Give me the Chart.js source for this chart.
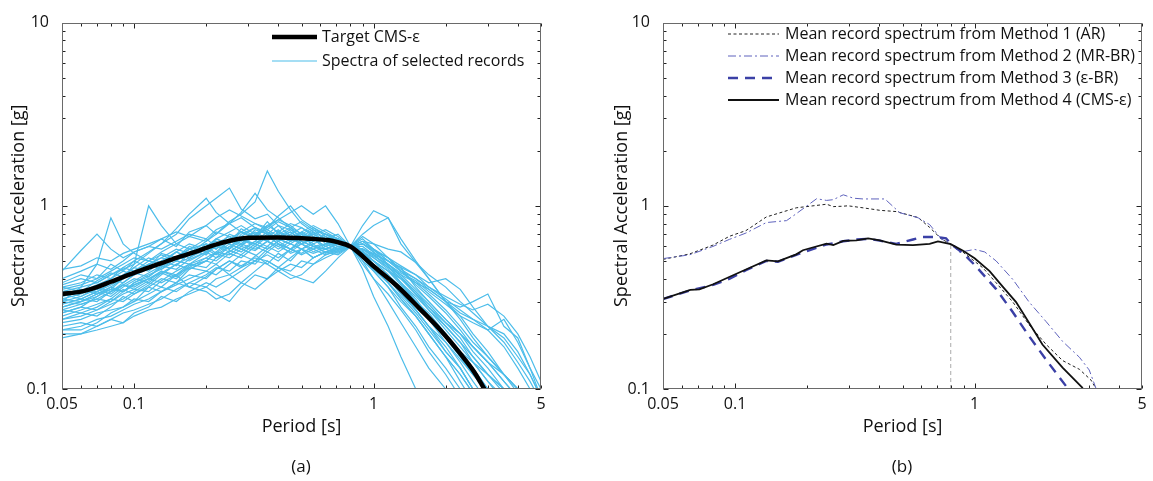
<!DOCTYPE html>
<html>
<head>
<meta charset="utf-8">
<script src="https://cdn.jsdelivr.net/npm/chart.js@4"></script>
<style>
  body { margin: 0; background: #fff; width: 1153px; height: 481px; position: relative; overflow: hidden; font-family: 'Open Sans', sans-serif; }
  canvas { position: absolute; top: 0; }
  #chartA { left: 0; }
  #chartB { left: 577px; }
  .cap { position: absolute; top: 454px; width: 60px; text-align: center; font-size: 17px; color: #111; }
</style>
</head>
<body>
<canvas id="chartA" width="576" height="481"></canvas>
<canvas id="chartB" width="576" height="481"></canvas>
<div class="cap" style="left:271px">(a)</div>
<div class="cap" style="left:872px">(b)</div>
<script>
// ---------- DATA ----------
const xTicks = [0.05, 0.1, 1, 5];
const yTicks = [0.1, 1, 10];

// panel (a): spectra of the selected records, all on one period grid
const periods = [0.05, 0.06, 0.07, 0.08, 0.09, 0.1, 0.115, 0.13, 0.15, 0.17, 0.2, 0.22, 0.25, 0.28, 0.32, 0.36, 0.4, 0.45, 0.5, 0.56, 0.63, 0.71, 0.8, 0.9, 1.0, 1.15, 1.3, 1.5, 1.7, 2.0, 2.3, 2.6, 3.0, 3.5, 4.0, 4.5, 5.0];
const records = [
  [0.45,0.47,0.52,0.50,0.55,0.58,0.62,0.66,0.60,0.72,0.78,0.70,0.82,0.90,1.05,1.55,1.20,0.95,0.80,0.72,0.66,0.70,0.60,0.52,0.48,0.40,0.36,0.30,0.26,0.20,0.16,0.13,0.10,0.08,0.06,0.05,0.04],
  [0.20,0.20,0.21,0.22,0.23,0.25,0.27,0.28,0.31,0.33,0.36,0.40,0.42,0.46,0.50,0.48,0.55,0.50,0.58,0.62,0.55,0.58,0.60,0.56,0.50,0.42,0.34,0.27,0.22,0.16,0.13,0.10,0.08,0.06,0.05,0.04,0.03],
  [0.38,0.42,0.40,0.48,0.44,0.50,0.46,0.55,0.52,0.60,0.56,0.66,0.62,0.75,0.68,0.82,0.70,0.76,0.66,0.72,0.62,0.66,0.60,0.66,0.58,0.50,0.46,0.36,0.30,0.24,0.20,0.17,0.14,0.11,0.09,0.07,0.06],
  [0.30,0.36,0.48,0.86,0.62,0.55,0.50,0.48,0.56,0.52,0.62,0.58,0.70,0.66,0.60,0.68,0.74,0.64,0.70,0.60,0.58,0.62,0.60,0.50,0.44,0.36,0.30,0.25,0.20,0.15,0.12,0.095,0.075,0.06,0.05,0.04,0.03],
  [0.26,0.28,0.32,0.35,0.40,0.48,1.00,0.78,0.62,0.58,0.66,0.60,0.56,0.62,0.74,0.70,0.62,0.58,0.66,0.70,0.64,0.60,0.60,0.55,0.47,0.40,0.35,0.30,0.24,0.19,0.15,0.12,0.095,0.08,0.065,0.05,0.04],
  [0.34,0.36,0.38,0.42,0.45,0.48,0.55,0.62,0.70,0.85,1.00,1.10,1.25,0.96,0.85,0.90,0.78,0.74,0.68,0.64,0.70,0.64,0.60,0.68,0.62,0.52,0.44,0.38,0.33,0.27,0.22,0.18,0.15,0.12,0.10,0.08,0.065],
  [0.24,0.26,0.25,0.28,0.32,0.30,0.36,0.40,0.38,0.45,0.50,0.48,0.55,0.52,0.60,0.56,0.62,0.55,0.58,0.52,0.56,0.54,0.60,0.78,0.94,0.86,0.62,0.49,0.42,0.36,0.30,0.26,0.22,0.19,0.15,0.12,0.09],
  [0.28,0.30,0.33,0.35,0.34,0.38,0.42,0.45,0.50,0.48,0.55,0.60,0.58,0.65,0.62,0.70,0.66,0.72,0.64,0.60,0.62,0.58,0.60,0.56,0.52,0.46,0.42,0.38,0.35,0.30,0.28,0.30,0.33,0.22,0.19,0.13,0.09],
  [0.23,0.24,0.26,0.27,0.28,0.30,0.33,0.36,0.34,0.38,0.36,0.33,0.30,0.36,0.42,0.40,0.46,0.44,0.50,0.48,0.54,0.57,0.60,0.52,0.44,0.36,0.28,0.22,0.17,0.13,0.10,0.08,0.065,0.05,0.04,0.03,0.025],
  [0.31,0.33,0.36,0.40,0.38,0.42,0.45,0.50,0.47,0.55,0.60,0.64,0.58,0.68,0.76,0.72,0.66,0.62,0.68,0.74,0.66,0.62,0.60,0.45,0.32,0.22,0.15,0.10,0.075,0.06,0.05,0.04,0.03,0.025,0.02,0.017,0.015],
  [0.44,0.57,0.70,0.58,0.52,0.56,0.60,0.58,0.64,0.70,0.66,0.74,0.80,0.72,0.68,0.76,0.84,0.78,0.70,0.66,0.60,0.64,0.60,0.56,0.50,0.44,0.40,0.33,0.28,0.22,0.18,0.14,0.11,0.09,0.07,0.055,0.045],
  [0.27,0.29,0.31,0.30,0.34,0.37,0.40,0.44,0.42,0.48,0.52,0.56,0.64,0.60,0.70,0.78,0.72,0.80,0.76,0.68,0.64,0.66,0.60,0.62,0.56,0.48,0.41,0.34,0.29,0.23,0.19,0.15,0.12,0.095,0.08,0.065,0.05],
  [0.36,0.38,0.42,0.40,0.46,0.50,0.56,0.62,0.75,0.90,1.10,0.92,0.80,0.86,0.76,0.70,0.78,0.68,0.62,0.66,0.58,0.62,0.60,0.57,0.50,0.42,0.36,0.30,0.25,0.20,0.16,0.13,0.10,0.08,0.065,0.05,0.04],
  [0.22,0.23,0.22,0.24,0.26,0.27,0.29,0.31,0.35,0.38,0.42,0.46,0.44,0.50,0.48,0.56,0.52,0.58,0.55,0.60,0.58,0.55,0.60,0.58,0.52,0.45,0.38,0.31,0.25,0.20,0.15,0.12,0.095,0.075,0.06,0.05,0.04],
  [0.29,0.31,0.30,0.34,0.37,0.36,0.40,0.43,0.40,0.46,0.44,0.48,0.42,0.38,0.35,0.40,0.44,0.48,0.46,0.52,0.56,0.60,0.60,0.70,0.78,0.86,0.66,0.50,0.40,0.30,0.25,0.20,0.16,0.12,0.10,0.08,0.06],
  [0.33,0.35,0.34,0.38,0.42,0.46,0.44,0.50,0.56,0.52,0.60,0.66,0.72,0.78,0.70,0.64,0.60,0.66,0.72,0.78,0.72,0.66,0.60,0.48,0.40,0.33,0.27,0.21,0.16,0.12,0.09,0.07,0.055,0.045,0.035,0.03,0.025],
  [0.30,0.32,0.36,0.34,0.38,0.42,0.48,0.52,0.58,0.55,0.64,0.70,0.80,0.92,1.17,0.95,0.86,0.76,0.82,0.74,0.70,0.64,0.60,0.54,0.46,0.38,0.32,0.26,0.21,0.16,0.13,0.10,0.08,0.065,0.05,0.04,0.035],
  [0.25,0.27,0.29,0.31,0.30,0.33,0.36,0.34,0.38,0.42,0.40,0.45,0.50,0.47,0.52,0.50,0.46,0.42,0.40,0.38,0.44,0.52,0.60,0.62,0.58,0.50,0.44,0.37,0.32,0.26,0.21,0.17,0.14,0.11,0.09,0.07,0.055],
  [0.32,0.34,0.37,0.40,0.44,0.42,0.48,0.52,0.50,0.58,0.62,0.58,0.66,0.72,0.66,0.78,0.84,0.92,1.00,0.90,1.00,0.80,0.60,0.52,0.45,0.38,0.31,0.25,0.20,0.15,0.12,0.095,0.075,0.06,0.05,0.04,0.03],
  [0.26,0.28,0.27,0.30,0.33,0.35,0.34,0.39,0.44,0.48,0.46,0.52,0.56,0.62,0.58,0.64,0.60,0.56,0.62,0.58,0.54,0.57,0.60,0.58,0.54,0.50,0.46,0.42,0.38,0.40,0.35,0.28,0.22,0.18,0.14,0.11,0.085],
  [0.35,0.37,0.40,0.44,0.48,0.52,0.50,0.56,0.62,0.68,0.64,0.72,0.68,0.62,0.70,0.74,0.68,0.72,0.66,0.70,0.74,0.68,0.60,0.55,0.50,0.44,0.38,0.32,0.27,0.22,0.18,0.15,0.12,0.10,0.08,0.065,0.05],
  [0.21,0.22,0.24,0.25,0.27,0.29,0.31,0.34,0.37,0.40,0.44,0.42,0.48,0.54,0.50,0.58,0.64,0.58,0.54,0.58,0.62,0.64,0.60,0.50,0.40,0.30,0.23,0.17,0.13,0.10,0.075,0.06,0.045,0.035,0.03,0.025,0.02],
  [0.28,0.30,0.32,0.36,0.34,0.38,0.41,0.46,0.52,0.58,0.54,0.62,0.58,0.70,0.76,0.70,0.64,0.70,0.62,0.56,0.60,0.56,0.60,0.64,0.62,0.58,0.56,0.49,0.40,0.30,0.24,0.19,0.15,0.12,0.095,0.075,0.06],
  [0.31,0.30,0.33,0.36,0.34,0.37,0.40,0.38,0.42,0.36,0.34,0.31,0.33,0.38,0.44,0.50,0.46,0.52,0.58,0.52,0.56,0.58,0.60,0.56,0.48,0.40,0.34,0.27,0.22,0.17,0.13,0.10,0.08,0.06,0.05,0.04,0.03],
  [0.37,0.40,0.38,0.42,0.46,0.44,0.50,0.54,0.50,0.56,0.60,0.55,0.62,0.58,0.54,0.48,0.44,0.40,0.42,0.48,0.52,0.56,0.60,0.62,0.56,0.48,0.42,0.35,0.30,0.24,0.20,0.16,0.13,0.10,0.085,0.07,0.055],
  [0.40,0.44,0.48,0.45,0.50,0.56,0.60,0.66,0.72,0.68,0.78,0.86,0.95,0.88,0.80,0.74,0.82,0.76,0.70,0.76,0.68,0.64,0.60,0.64,0.58,0.52,0.45,0.40,0.35,0.30,0.26,0.24,0.21,0.17,0.13,0.10,0.08],
  [0.19,0.20,0.22,0.24,0.23,0.26,0.28,0.32,0.30,0.34,0.38,0.36,0.40,0.44,0.50,0.54,0.50,0.58,0.62,0.66,0.60,0.64,0.60,0.54,0.46,0.38,0.31,0.25,0.20,0.15,0.11,0.085,0.065,0.05,0.04,0.03,0.025],
  [0.33,0.31,0.34,0.37,0.40,0.44,0.48,0.45,0.52,0.58,0.54,0.62,0.68,0.64,0.72,0.66,0.70,0.64,0.68,0.62,0.66,0.63,0.60,0.58,0.54,0.46,0.40,0.34,0.28,0.23,0.20,0.17,0.14,0.12,0.10,0.085,0.07],
  [0.27,0.26,0.28,0.31,0.35,0.33,0.37,0.42,0.48,0.45,0.50,0.55,0.52,0.58,0.64,0.60,0.68,0.74,0.68,0.64,0.70,0.66,0.60,0.55,0.48,0.41,0.34,0.28,0.24,0.19,0.16,0.14,0.12,0.10,0.09,0.075,0.06],
  [0.34,0.32,0.35,0.33,0.37,0.40,0.38,0.43,0.48,0.52,0.58,0.54,0.60,0.66,0.62,0.58,0.64,0.70,0.76,0.70,0.64,0.58,0.60,0.64,0.58,0.47,0.38,0.30,0.24,0.18,0.14,0.11,0.085,0.065,0.05,0.04,0.03],
  [0.29,0.31,0.34,0.32,0.36,0.39,0.43,0.47,0.45,0.51,0.56,0.60,0.66,0.61,0.68,0.64,0.72,0.66,0.62,0.68,0.64,0.60,0.60,0.58,0.55,0.50,0.44,0.40,0.36,0.32,0.29,0.27,0.29,0.25,0.20,0.15,0.11],
  [0.24,0.25,0.27,0.29,0.31,0.34,0.38,0.36,0.42,0.46,0.52,0.50,0.57,0.54,0.62,0.68,0.62,0.58,0.64,0.60,0.56,0.59,0.60,0.62,0.57,0.52,0.47,0.42,0.36,0.31,0.27,0.24,0.22,0.20,0.16,0.12,0.09],
  [0.36,0.34,0.39,0.43,0.41,0.46,0.52,0.49,0.56,0.62,0.58,0.66,0.62,0.72,0.80,0.76,0.88,1.00,0.84,0.76,0.70,0.66,0.60,0.60,0.54,0.47,0.40,0.33,0.27,0.21,0.17,0.14,0.11,0.085,0.07,0.055,0.045],
  [0.21,0.21,0.23,0.26,0.28,0.31,0.30,0.34,0.38,0.36,0.41,0.45,0.50,0.46,0.53,0.60,0.56,0.62,0.58,0.55,0.58,0.62,0.60,0.56,0.50,0.44,0.37,0.30,0.25,0.19,0.15,0.12,0.10,0.08,0.065,0.05,0.04],
  [0.32,0.35,0.33,0.36,0.40,0.43,0.41,0.47,0.53,0.50,0.56,0.52,0.60,0.56,0.64,0.72,0.66,0.62,0.58,0.64,0.68,0.62,0.60,0.58,0.53,0.48,0.43,0.39,0.34,0.29,0.25,0.23,0.21,0.24,0.18,0.13,0.10],
  [0.30,0.29,0.31,0.34,0.37,0.35,0.39,0.44,0.41,0.47,0.50,0.56,0.54,0.60,0.57,0.64,0.58,0.64,0.72,0.66,0.60,0.63,0.60,0.52,0.46,0.40,0.33,0.27,0.22,0.18,0.145,0.12,0.10,0.08,0.065,0.05,0.04]
];

// panel (a): target CMS-epsilon
const targetPeriods = [0.05, 0.06, 0.07, 0.08, 0.1, 0.13, 0.15, 0.18, 0.2, 0.23, 0.3, 0.4, 0.5, 0.55, 0.64, 0.7, 0.8, 1.0, 1.25, 1.56, 1.9, 2.31, 2.63, 2.9];
const targetSa = [0.33, 0.34, 0.36, 0.385, 0.43, 0.486, 0.52, 0.56, 0.59, 0.626, 0.669, 0.672, 0.665, 0.66, 0.65, 0.635, 0.60, 0.468, 0.366, 0.274, 0.21, 0.155, 0.124, 0.10];

// panel (b): mean record spectra of the four methods
const m1Periods = [0.05, 0.0646, 0.0808, 0.0948, 0.111, 0.135, 0.18, 0.241, 0.257, 0.283, 0.296, 0.342, 0.402, 0.471, 0.581, 0.649, 0.726, 0.795, 0.895, 1.084, 1.23, 1.445, 1.69, 1.99, 2.33, 2.74, 3.06, 3.22];
const m1Sa = [0.51, 0.546, 0.61, 0.682, 0.732, 0.869, 0.975, 1.02, 0.99, 0.995, 1.0, 0.975, 0.945, 0.93, 0.863, 0.762, 0.66, 0.618, 0.558, 0.458, 0.38, 0.298, 0.224, 0.175, 0.143, 0.128, 0.112, 0.10];

const m2Periods = [0.05, 0.0646, 0.0808, 0.0948, 0.111, 0.135, 0.164, 0.18, 0.219, 0.241, 0.257, 0.283, 0.312, 0.342, 0.422, 0.487, 0.581, 0.649, 0.726, 0.795, 0.867, 1.0, 1.102, 1.23, 1.445, 1.69, 1.99, 2.33, 2.74, 3.01, 3.22];
const m2Sa = [0.515, 0.54, 0.60, 0.656, 0.71, 0.81, 0.83, 0.905, 1.093, 1.07, 1.08, 1.148, 1.10, 1.09, 1.09, 0.917, 0.86, 0.79, 0.66, 0.618, 0.558, 0.578, 0.56, 0.50, 0.396, 0.298, 0.233, 0.182, 0.149, 0.127, 0.10];

const m3Periods = [0.05, 0.065, 0.081, 0.095, 0.111, 0.135, 0.151, 0.18, 0.241, 0.283, 0.321, 0.359, 0.402, 0.471, 0.553, 0.6, 0.7, 0.76, 0.795, 0.895, 1.0, 1.23, 1.44, 1.69, 2.0, 2.46];
const m3Sa = [0.31, 0.345, 0.37, 0.40, 0.445, 0.50, 0.495, 0.54, 0.615, 0.64, 0.655, 0.66, 0.645, 0.62, 0.655, 0.675, 0.675, 0.665, 0.62, 0.55, 0.476, 0.351, 0.264, 0.194, 0.143, 0.10];

const m4Periods = [0.05, 0.065, 0.071, 0.081, 0.095, 0.111, 0.135, 0.151, 0.18, 0.192, 0.241, 0.257, 0.283, 0.321, 0.359, 0.402, 0.471, 0.553, 0.649, 0.703, 0.795, 0.895, 1.0, 1.155, 1.31, 1.49, 1.69, 1.92, 2.33, 2.83];
const m4Sa = [0.31, 0.348, 0.35, 0.373, 0.41, 0.449, 0.503, 0.497, 0.543, 0.572, 0.622, 0.61, 0.643, 0.648, 0.664, 0.648, 0.614, 0.61, 0.62, 0.64, 0.618, 0.568, 0.517, 0.44, 0.362, 0.298, 0.229, 0.175, 0.131, 0.101];

// conditioning period marker
const tStarPeriods = [0.795, 0.795];
const tStarSa = [0.1, 0.62];

const legendA = ["Target CMS-ε", "Spectra of selected records"];
const legendB = [
  "Mean record spectrum from Method 1 (AR)",
  "Mean record spectrum from Method 2 (MR-BR)",
  "Mean record spectrum from Method 3 (ε-BR)",
  "Mean record spectrum from Method 4 (CMS-ε)"
];

// ---------- HELPERS ----------
const FONT = "'Open Sans', sans-serif";
Chart.defaults.font.family = FONT;
Chart.defaults.color = "#111";

const pts = (xs, ys) => xs.map((x, i) => ({ x: x, y: ys[i] }));

// 1..9 x 10^n inside [min, max], for the inward tick marks
function logMarks(min, max) {
  const out = [];
  for (let n = Math.floor(Math.log10(min)); n <= Math.ceil(Math.log10(max)); n++) {
    for (let k = 1; k <= 9; k++) {
      const v = k * Math.pow(10, n);
      if (v >= min * 0.999 && v <= max * 1.001) out.push([v, k === 1]);
    }
  }
  return out;
}

// box round the plot with inward ticks on all four sides
const frame = {
  id: "frame",
  afterDatasetsDraw(chart) {
    const { ctx, chartArea: a, scales: { x, y } } = chart;
    const L = Math.round(a.left) + 0.5, R = Math.round(a.right) - 0.5;
    const T = Math.round(a.top) + 0.5, B = Math.round(a.bottom) - 0.5;
    ctx.save();
    ctx.lineWidth = 1;
    ctx.strokeStyle = "#222";
    ctx.beginPath();
    logMarks(x.min, x.max).forEach(([v, major]) => {
      const px = Math.round(x.getPixelForValue(v)) + 0.5, len = major ? 5 : 3;
      ctx.moveTo(px, B); ctx.lineTo(px, B - len);
      ctx.moveTo(px, T); ctx.lineTo(px, T + len);
    });
    logMarks(y.min, y.max).forEach(([v, major]) => {
      const py = Math.round(y.getPixelForValue(v)) + 0.5, len = major ? 5 : 3;
      ctx.moveTo(L, py); ctx.lineTo(L + len, py);
      ctx.moveTo(R, py); ctx.lineTo(R - len, py);
    });
    ctx.stroke();
    ctx.strokeStyle = "#6a6a6a";
    ctx.strokeRect(L, T, R - L, B - T);
    ctx.restore();
  }
};

// legend drawn inside the plot, line samples taken from the datasets
const inLegend = {
  id: "inLegend",
  afterDraw(chart, args, opts) {
    const { ctx } = chart;
    ctx.save();
    ctx.font = opts.size + "px " + FONT;
    ctx.textBaseline = "middle";
    opts.items.forEach((it, i) => {
      const ds = chart.data.datasets[it.ds];
      const y = opts.y + i * opts.gap;
      ctx.strokeStyle = ds.borderColor;
      ctx.lineWidth = ds.borderWidth;
      ctx.setLineDash(ds.borderDash || []);
      ctx.beginPath();
      ctx.moveTo(opts.x, y);
      ctx.lineTo(opts.x + opts.len, y);
      ctx.stroke();
      ctx.setLineDash([]);
      ctx.fillStyle = "#111";
      ctx.fillText(it.text, opts.x + opts.len + opts.pad, y);
    });
    ctx.restore();
  }
};

function makeScales(yWidth, yTitlePad) {
  return {
    x: {
      type: "logarithmic", min: 0.05, max: 5,
      afterBuildTicks: s => { s.ticks = xTicks.map(v => ({ value: v })); },
      afterFit: s => { s.height = 92; },
      ticks: { callback: v => String(v), padding: 6, maxRotation: 0, autoSkip: false, font: { size: 16 } },
      grid: { display: false, drawTicks: false },
      border: { display: false },
      title: { display: true, text: "Period [s]", font: { size: 18 }, padding: { bottom: 43 } }
    },
    y: {
      type: "logarithmic", min: 0.1, max: 10,
      afterBuildTicks: s => { s.ticks = yTicks.map(v => ({ value: v })); },
      afterFit: s => { s.width = yWidth; },
      ticks: { callback: v => String(v), padding: 13, autoSkip: false, font: { size: 16 } },
      grid: { display: false, drawTicks: false },
      border: { display: false },
      title: { display: true, text: "Spectral Acceleration [g]", font: { size: 18 }, padding: { top: yTitlePad } }
    }
  };
}

const baseOptions = (yWidth, yTitlePad, rightPad, legend) => ({
  responsive: false,
  animation: false,
  devicePixelRatio: 1,
  layout: { padding: { top: 13, right: rightPad, bottom: 0, left: 0 } },
  elements: { point: { radius: 0 }, line: { tension: 0 } },
  scales: makeScales(yWidth, yTitlePad),
  plugins: { legend: { display: false }, tooltip: { enabled: false }, inLegend: legend }
});

// ---------- PANEL (a) ----------
const dsA = [{
  data: pts(targetPeriods, targetSa),
  borderColor: "#000", borderWidth: 4.5, cubicInterpolationMode: "monotone"
}].concat(records.map(r => ({
  data: pts(periods, r),
  borderColor: "#4dbdea", borderWidth: 1.2
})));

new Chart(document.getElementById("chartA"), {
  type: "line",
  data: { datasets: dsA },
  options: baseOptions(62, 8, 35, {
    x: 272, y: 37, gap: 24, len: 45, pad: 5, size: 16,
    items: [{ ds: 0, text: legendA[0] }, { ds: 1, text: legendA[1] }]
  }),
  plugins: [frame, inLegend]
});

// ---------- PANEL (b) ----------
const dsB = [
  { data: pts(m4Periods, m4Sa), borderColor: "#111", borderWidth: 1.8 },
  { data: pts(m3Periods, m3Sa), borderColor: "#3b40a6", borderWidth: 2.4, borderDash: [10, 7] },
  { data: pts(m2Periods, m2Sa), borderColor: "#5f63bd", borderWidth: 1, borderDash: [8, 3, 2, 3] },
  { data: pts(m1Periods, m1Sa), borderColor: "#222", borderWidth: 1, borderDash: [3, 2.5] },
  { data: pts(tStarPeriods, tStarSa), borderColor: "#aaa", borderWidth: 1, borderDash: [4, 3] }
];

new Chart(document.getElementById("chartB"), {
  type: "line",
  data: { datasets: dsB },
  options: baseOptions(86, 34, 11, {
    x: 151, y: 34, gap: 22, len: 51, pad: 6, size: 16,
    items: [
      { ds: 3, text: legendB[0] }, { ds: 2, text: legendB[1] },
      { ds: 1, text: legendB[2] }, { ds: 0, text: legendB[3] }
    ]
  }),
  plugins: [frame, inLegend]
});
</script>
</body>
</html>
